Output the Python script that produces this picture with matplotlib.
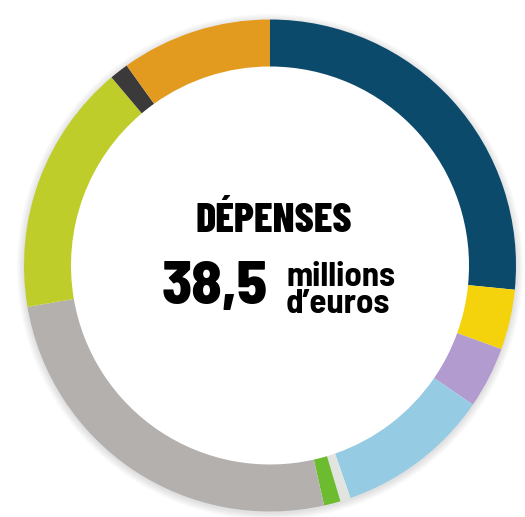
import matplotlib
matplotlib.use("Agg")
import matplotlib.pyplot as plt

postes = ["bleu", "jaune", "mauve", "bleu clair", "blanc", "vert", "gris", "anis", "noir", "orange"]
montants = [10.23, 1.52, 1.56, 3.90, 0.26, 0.42, 9.95, 6.37, 0.48, 3.81]
couleurs = ["#0c4a6c", "#f4d30c", "#b29ccf", "#95cbe3", "#e2e5df",
            "#6dbb2f", "#b3b0ae", "#bfcd2b", "#3c393a", "#e39b1f"]
titre = "DÉPENSES"
total = "38,5"
unite = ["millions", "d\u2019euros"]

W, H = 525, 517
fig = plt.figure(figsize=(W / 100, H / 100), dpi=100)
ax = fig.add_axes([0, 0, 1, 1])

cx, cy = 270, H - 265.5
# ombre douce à l'extérieur de l'anneau
for i in range(5):
    ax.pie([1], colors=["#000000"], radius=247 + i * 1.5, center=(cx, cy - 1.5),
           wedgeprops=dict(width=3 + i * 1.5, alpha=0.025, linewidth=0))
ax.pie(montants, colors=couleurs, radius=246, center=(cx, cy),
       startangle=90, counterclock=False,
       wedgeprops=dict(width=47, linewidth=0))
ax.set_xlim(0, W)
ax.set_ylim(0, H)
ax.set_aspect("equal")
ax.axis("off")

ax.text(274, H - 232, titre, family=["Barlow Condensed", "DejaVu Sans"], weight=800,
        fontsize=30.5, ha="center", va="baseline", color="black")
fam = ["Barlow Semi Condensed", "DejaVu Sans"]
ax.text(268, H - 304, total, family=fam, weight=800, fontsize=44,
        ha="right", va="baseline", color="black")
ax.text(286, H - 286, unite[0], family=fam, weight=700, fontsize=25,
        ha="left", va="baseline", color="black")
ax.text(286, H - 313, unite[1], family=fam, weight=700, fontsize=25,
        ha="left", va="baseline", color="black")

fig.savefig("out.png", dpi=100)
